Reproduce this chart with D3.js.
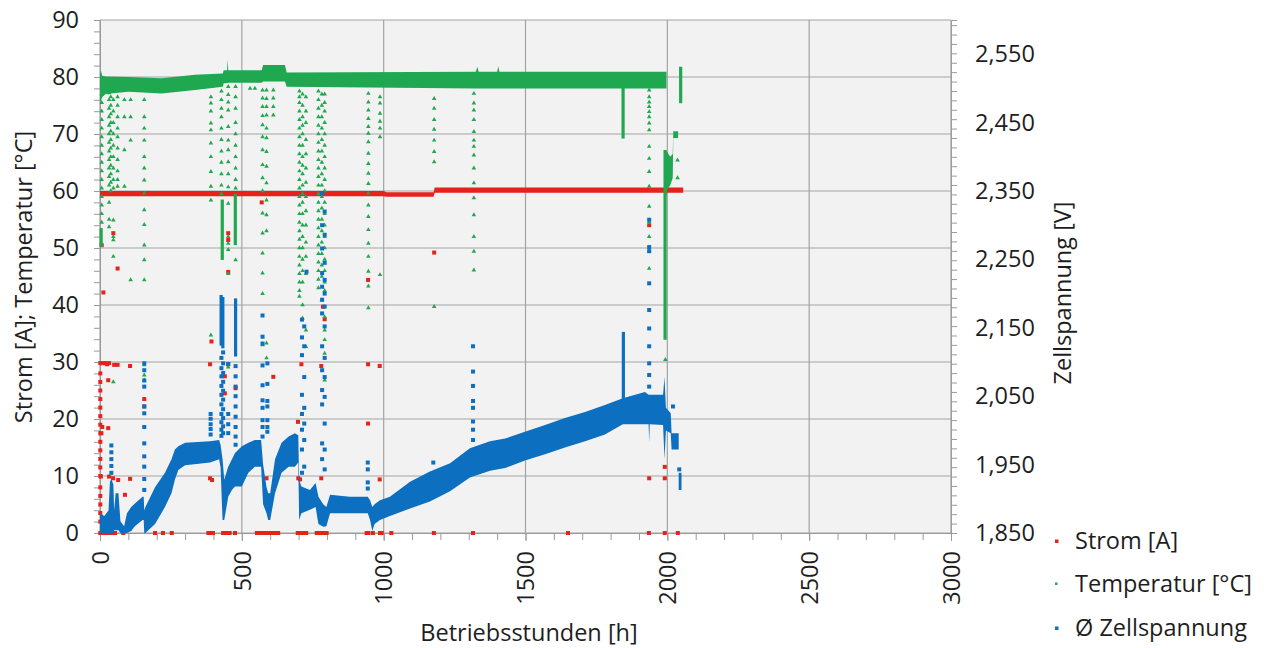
<!DOCTYPE html>
<html><head><meta charset="utf-8">
<script src="https://cdn.jsdelivr.net/npm/d3@7"></script>
<style>
body{margin:0;background:#fff}
text{font-family:"Open Sans",sans-serif;fill:#1e1e1e}
</style></head>
<body><svg id="c" width="1270" height="648"></svg>
<script>
// ---------------- DATA ----------------
const xTicks = [0, 500, 1000, 1500, 2000, 2500, 3000];
const leftTicks = [0, 10, 20, 30, 40, 50, 60, 70, 80, 90];
const rightTicks = [1.85, 1.95, 2.05, 2.15, 2.25, 2.35, 2.45, 2.55];
const rightTickLabels = ["1,850", "1,950", "2,050", "2,150", "2,250", "2,350", "2,450", "2,550"];
const seriesNames = ["Strom [A]", "Temperatur [°C]", "Ø Zellspannung"];

// Strom [A] – dense band + isolated points
const currBandHours = [0, 1000, 1010, 1176, 1180, 2056];
const currBandLow   = [59.1, 59.1, 59.0, 59.0, 59.7, 59.7];
const currBandHigh  = [60.0, 60.0, 59.8, 59.8, 60.6, 60.6];
const currZeroHours = [1, 4, 8, 12, 17, 22, 28, 36, 45, 53, 82, 194, 222, 253, 382, 390, 398, 434, 441, 448, 457, 476,
  553, 561, 569, 577, 585, 594, 602, 611, 619, 628, 697, 704, 711, 719, 727, 764, 771, 778, 785, 792, 799,
  940, 946, 962, 987, 993, 1027, 1177, 1315, 1650, 1935, 1991, 2037];
const currDrops = [
  [1, [2, 3.5, 5, 6.5, 8, 10, 11.5, 13, 14.5, 16, 17.5, 19, 20.5, 22, 23.5, 25, 26.5, 28, 29.8]],
  [3, [9.9]], [5, [17.5]], [8, [18.6]], [12, [42.2]], [6, [50.5]],
  [10, [29.8]], [18, [29.8]], [25, [29.6]], [32, [29.8, 9.9]], [50, [29.5]], [62, [29.5, 46.4]], [106, [29.3, 9.5]],
  [29, [26.8, 18.4]], [46, [9.6]], [64, [9.3]], [88, [6.7]], [47, [52.6]],
  [156, [23.5, 22.2]], [388, [29.6, 9.6]], [393, [33.6]], [395, [9.3]],
  [440, [27.5, 24.5]], [452, [29.6, 52.6, 51.4, 45.8]], [478, [25.4]],
  [570, [58.0]], [611, [27.4]], [587, [9.6, 6.5]], [593, [4.0]],
  [698, [19.5]], [699, [9.6]], [705, [9.4]], [710, [29.6]], [780, [29.3, 9.6]], [786, [39.7]], [792, [37.5]],
  [945, [44.4, 29.6, 19.2]], [986, [29.3, 9.4]], [1178, [49.2]],
  [1936, [54.0, 9.6]], [1991, [9.6, 11.6]]
];

// Temperatur [°C] – dense band, dense columns and isolated cooling points
const tempBandHours = [0, 3, 8, 20, 100, 217, 335, 433, 436, 448, 450, 452, 570, 575, 652, 658, 1325, 1330, 1335, 1400, 1404, 1408, 1997];
const tempBandLow   = [75.5, 75.8, 76.5, 77.0, 77.4, 77.1, 77.7, 78.3, 78.9, 78.9, 79.0, 79.0, 79.0, 79.2, 79.2, 78.3, 78.0, 78.0, 78.0, 78.0, 78.0, 78.0, 78.0];
const tempBandHigh  = [80.5, 81.2, 80.2, 80.1, 80.0, 79.8, 80.4, 80.6, 81.2, 81.2, 83.1, 81.2, 81.2, 82.1, 82.1, 80.8, 80.9, 81.8, 80.9, 80.9, 81.9, 80.9, 80.9];
const tempColumns = [[4, 50.2, 53.5], [431, 47.9, 58.5], [477, 50.5, 59.5], [1844, 69.2, 78.2], [1992, 33.9, 67.2], [2047, 75.4, 81.8]];
const tempTailHours = [1994, 2000, 2010, 2019, 2021, 2038];
const tempTailLow   = [58.5, 60.2, 61.0, 62.3, 69.3, 69.3];
const tempTailHigh  = [67.2, 66.8, 66.0, 66.5, 70.5, 70.5];
const tempEndHours = [2044, 2051];
const tempEndLow   = [79.8, 79.8];
const tempEndHigh  = [81.8, 81.6];
const tempDrops = [
  [6, [77, 75.5, 74, 72.5, 71, 69.5, 68, 66.5, 65, 63.5, 62, 60.5, 59, 57.5, 56, 54.5]],
  [32, [77.2, 76, 74.5, 73, 71.5, 70, 68.5, 67, 65.5, 64, 62.5, 61, 58, 55, 53.7]],
  [38, [76.5, 75, 73.5, 72, 70.5, 69, 67.5, 66, 64.5, 63, 61.5, 60]],
  [47, [76, 74, 72, 70, 68, 66, 64, 62, 60.5, 54.9, 52, 51.4, 48.5, 26.5]],
  [62, [76.5, 75, 73, 71, 69.5, 67.5, 65.5, 63.5, 62, 60.8]],
  [86, [76, 73, 67.2, 60.8]],
  [108, [76, 73, 68.9, 44.4]],
  [156, [76, 73, 71, 68.9, 66, 64, 61.9, 59.6, 56.7, 54.1, 50.5, 47.9, 44.4, 29.5, 27.7, 26.8]],
  [391, [78.3, 76.5, 75.4, 74, 71.9, 70.7, 68.4, 66, 63.4, 60.8, 58.4, 34.7]],
  [428, [77.5, 76, 74.5, 73, 71, 69, 67, 65, 63, 61, 59.5]],
  [452, [78.3, 76.9, 75.6, 74.2, 71.3, 68.9, 67.2, 65.1, 63, 60.7, 57.8, 52, 50.8, 49.7, 45.5, 29.1]],
  [478, [78.3, 76.5, 74.5, 72, 70, 68, 66, 64, 62, 60.5, 47.9]],
  [529, [78]], [546, [78]],
  [573, [77.7, 76.3, 74.8, 73.2, 71.6, 69.5, 67.2, 64.6, 62.3, 60, 56.1, 52.6, 49.1, 45.6, 42, 33]],
  [587, [77.7, 76.2, 74.8, 73.3, 71, 69.3, 66.9, 64.3, 61.4, 58.4, 55.8, 53, 33.3, 30.7]],
  [611, [77.7, 76.3, 74.8, 73.3]],
  [703, [77.5, 76.5, 75.5, 74, 72.5, 71, 69.5, 68, 66.5, 65, 63.5, 62, 60.5, 59, 57.5, 56, 54.5, 53, 51.5, 50, 48.5, 47, 45.5, 44, 42.5, 41.5]],
  [714, [77, 75, 73, 71.5, 70, 68, 66, 64.5, 63, 61, 59.5, 58, 56, 54, 52, 50, 48, 46, 44, 40, 37.7]],
  [726, [76.5, 74, 72, 69, 66.5, 64, 61.5, 59, 56.5, 54, 51, 48.5, 45.5, 35.6, 32.7]],
  [770, [77.5, 76, 74.5, 73, 71.5, 70, 68.5, 67, 65.5, 64, 62.5, 61, 59.5, 58, 56.5, 55, 53.5, 52, 50.5, 49, 47.5, 46, 44.5, 43]],
  [782, [77, 75, 73, 71, 69, 67, 65, 63, 61, 59, 57, 55, 53, 51, 49, 47, 45, 40.9]],
  [792, [77, 75.5, 74, 72, 70, 68, 66, 64, 62, 60, 58, 56, 54, 52, 50, 48, 46, 44, 42.5, 37.9, 35.6, 33.9, 31.5, 26.8]],
  [946, [77.1, 75.6, 74.2, 72.7, 71.3, 70.1, 68.6, 66.6, 64.8, 63.1, 61.3, 59.6, 57.5, 55.5, 53.2, 50.8, 48.5, 45.9, 43.3, 39.5]],
  [987, [76.5, 75.4, 73.6, 72.2, 71, 69.5, 45.3]],
  [1178, [76.2, 74.5, 72.5, 70.8, 68.9, 66.9, 65.1, 39.7]],
  [1318, [77.1, 75.4, 74.2, 72.5, 70.4, 68.9, 67.8, 66.3, 64, 61.4, 58.8, 55.8, 52, 49.4, 46.1]],
  [1936, [77.7, 76.5, 75.6, 74.8, 73.9, 73, 71.9, 70.7, 67.8, 65.7, 63.4, 60.8, 57.3, 54.6, 52, 49.5, 46.4]],
  [1993, [30.4]], [2036, [65.4, 62.3]]
];

// Ø Zellspannung [V] – dense band (null = gap), dense columns, isolated points
const voltBandHours = [0, 15, 30, 35, 40, 47, 50, 55, 65, 72, 85, 95, 110, 123, 150, 154, 156, 160, 194, 229, 252, 264, 276, 300, 388, 420, 425, 432, 438, 452, 465, 476, 500, 523, 546, 568, 575, 587, 593, 600, 617, 640, 665, 687, 699, 702, 710, 740, 760, 770, 787, 798, 811, 881, 944, 952, 960, 968, 987, 1022, 1093, 1163, 1234, 1304, 1375, 1428, 1498, 1569, 1639, 1710, 1780, 1843, 1921, 1934, 1936, 1938, 1985, 1990, 1995, 2012, 2015, 2040, 2040, 2040, 2050];
const voltBandLow  = [1.850, 1.850, 1.850, 1.850, 1.850, 1.850, 1.854, 1.854, 1.854, 1.850, 1.850, 1.850, 1.853, 1.860, 1.869, 1.869, 1.850, 1.850, 1.863, 1.888, 1.908, 1.928, 1.942, 1.949, 1.953, 1.958, 1.946, 1.869, 1.869, 1.903, 1.913, 1.918, 1.918, 1.938, 1.947, 1.947, 1.892, 1.879, 1.869, 1.869, 1.908, 1.938, 1.947, 1.947, 1.953, 1.869, 1.879, 1.884, 1.888, 1.863, 1.859, 1.860, 1.879, 1.879, 1.879, 1.869, 1.853, 1.863, 1.869, 1.875, 1.886, 1.896, 1.911, 1.931, 1.941, 1.945, 1.956, 1.965, 1.975, 1.984, 1.994, 2.009, 2.009, 2.009, 1.982, 2.009, 2.008, 1.958, 2.000, 1.996, 1.972, 1.972, null, 1.913, 1.913];
const voltBandHigh = [1.879, 1.875, 1.883, 1.925, 1.929, 1.921, 1.883, 1.908, 1.908, 1.867, 1.860, 1.879, 1.888, 1.893, 1.903, 1.903, 1.883, 1.888, 1.917, 1.938, 1.958, 1.972, 1.977, 1.982, 1.984, 1.986, 1.979, 1.958, 1.928, 1.947, 1.958, 1.967, 1.977, 1.982, 1.986, 1.986, 1.950, 1.917, 1.908, 1.908, 1.958, 1.982, 1.991, 1.996, 1.993, 1.928, 1.918, 1.913, 1.923, 1.903, 1.892, 1.888, 1.906, 1.903, 1.903, 1.898, 1.888, 1.892, 1.898, 1.903, 1.925, 1.940, 1.952, 1.974, 1.984, 1.988, 1.998, 2.008, 2.018, 2.027, 2.037, 2.047, 2.056, 2.052, 2.052, 2.052, 2.052, 2.078, 2.033, 2.025, 1.996, 1.996, null, 1.938, 1.938];
const voltColumns = [[427, 2.124, 2.198], [433, 2.120, 2.195], [478, 2.108, 2.193], [1845, 2.040, 2.144]];
const voltDrops = [
  [40, [1.978, 1.968, 1.958, 1.948, 1.938]],
  [156, [2.098, 2.088, 2.073, 2.064, 2.035, 2.025, 2.005, 1.981, 1.962, 1.947, 1.929, 1.913]],
  [390, [2.024, 2.017, 2.009, 2.002, 1.994]],
  [428, [2.106, 2.091, 2.079, 2.065, 2.052, 2.038, 2.024, 2.012, 2.001, 1.992]],
  [434, [2.114, 2.098, 2.084, 2.071, 2.058, 2.045, 2.031, 2.018, 2.006, 1.996]],
  [452, [2.097, 2.024, 2.009, 1.996]],
  [478, [2.094, 2.079, 2.064, 2.050, 2.035, 2.020, 2.005, 1.991, 1.979]],
  [573, [2.168, 2.137, 2.127, 2.095, 2.066, 2.044, 2.033, 2.015, 2.005, 1.991]],
  [590, [2.098, 2.068, 2.043, 2.035, 2.015, 2.005, 1.998]],
  [712, [2.162, 2.136, 2.110, 2.052, 2.024, 2.001, 1.972, 1.938]],
  [720, [2.152, 2.123, 2.078, 2.033, 2.010, 1.986, 1.947]],
  [728, [2.232]],
  [783, [2.347, 2.300, 2.266, 2.230, 2.210, 2.191, 2.171, 2.123, 2.088, 2.059, 2.038, 1.981, 1.958]],
  [792, [2.320, 2.286, 2.245, 2.220, 2.200, 2.181, 2.152, 2.106, 2.078, 2.049, 2.010, 1.972, 1.943]],
  [944, [1.953, 1.943, 1.924, 1.915]],
  [1175, [1.953]],
  [1315, [2.123, 2.086, 2.065, 2.043, 2.033, 2.013, 2.001, 1.986]],
  [1936, [2.308, 2.268, 2.262, 2.215, 2.176, 2.149, 2.123, 2.098, 2.081, 2.064]],
  [2020, [2.035]], [2042, [1.943]]
];

// ---------------- STYLE / LAYOUT ----------------
const M = {l: 100, r: 951, t: 20, b: 533};
const C = {red: "#e5221c", green: "#1fa84f", blue: "#0c6fc0", grid: "#a3a3a3", bg: "#f2f2f2", axis: "#9a9a9a"};
const FS = 23.5;

const svg = d3.select("#c");
const x = d3.scaleLinear().domain([0, 3000]).range([M.l, M.r]);
const yL = d3.scaleLinear().domain([0, 90]).range([M.b, M.t]);
const yR = d3.scaleLinear().domain([1.85, 2.6]).range([M.b, M.t]);

svg.append("rect").attr("x", M.l).attr("y", M.t).attr("width", M.r - M.l).attr("height", M.b - M.t).attr("fill", C.bg);

// gridlines
const grid = svg.append("g");
grid.selectAll("line.h").data(leftTicks).join("line")
  .attr("x1", M.l).attr("x2", M.r).attr("y1", d => yL(d)).attr("y2", d => yL(d))
  .attr("stroke", C.grid).attr("stroke-width", 1.2);
grid.selectAll("line.v").data(xTicks).join("line").attr("class", "v")
  .attr("x1", d => x(d)).attr("x2", d => x(d)).attr("y1", M.t).attr("y2", M.b)
  .attr("stroke", C.grid).attr("stroke-width", 1.2);

const styleText = g => g.selectAll("text").attr("font-size", FS).attr("font-family", "Open Sans").attr("fill", "#1e1e1e");

// left axis
const leftMinor = d3.range(0, 91, 2);
svg.append("g").attr("transform", `translate(${M.l},0)`)
  .call(d3.axisLeft(yL).tickValues(leftMinor).tickSize(6).tickFormat(""))
  .call(g => g.select(".domain").attr("stroke", C.axis))
  .call(g => g.selectAll(".tick line").attr("stroke", C.axis));
svg.append("g").attr("transform", `translate(${M.l},0)`)
  .call(d3.axisLeft(yL).tickValues(leftTicks).tickSize(6).tickPadding(15).tickFormat(d3.format("d")))
  .call(g => g.select(".domain").remove())
  .call(g => g.selectAll(".tick line").attr("stroke", C.axis))
  .call(styleText);

// right axis
const rightMinor = d3.range(0, 55).map(i => 1.85 + i * 0.01375);
svg.append("g").attr("transform", `translate(${M.r},0)`)
  .call(d3.axisRight(yR).tickValues(rightMinor).tickSize(6).tickFormat(""))
  .call(g => g.select(".domain").attr("stroke", C.axis))
  .call(g => g.selectAll(".tick line").attr("stroke", C.axis));
svg.append("g").attr("transform", `translate(${M.r},0)`)
  .call(d3.axisRight(yR).tickValues(rightTicks).tickSize(0).tickPadding(24).tickFormat((d, i) => rightTickLabels[i]))
  .call(g => g.select(".domain").remove())
  .call(styleText);

// bottom axis
const xMinor = d3.range(0, 3001, 100);
svg.append("g").attr("transform", `translate(0,${M.b})`)
  .call(d3.axisBottom(x).tickValues(xMinor).tickSize(7).tickFormat(""))
  .call(g => g.select(".domain").attr("stroke", C.axis))
  .call(g => g.selectAll(".tick line").attr("stroke", C.axis));
svg.append("g").attr("transform", `translate(0,${M.b})`)
  .call(d3.axisBottom(x).tickValues(xTicks).tickSize(8).tickFormat(d3.format("d")))
  .call(g => g.select(".domain").remove())
  .call(g => g.selectAll(".tick line").attr("stroke", C.axis))
  .call(styleText)
  .call(g => g.selectAll("text").attr("text-anchor", "end").attr("dy", "0.35em").attr("x", 0).attr("y", 0)
    .attr("transform", "translate(0,18) rotate(-90)"));

// ---------------- SERIES ----------------
function bandArea(hours, low, high, yS) {
  return d3.area().defined(i => low[i] != null)
    .x(i => x(hours[i])).y0(i => yS(low[i])).y1(i => yS(high[i]))(d3.range(hours.length));
}
const flat = drops => drops.flatMap(([h, vs]) => vs.map(v => [h, v]));

// Strom
svg.append("path").attr("d", bandArea(currBandHours, currBandLow, currBandHigh, yL)).attr("fill", C.red);
svg.append("g").selectAll("rect").data(flat(currDrops).concat(currZeroHours.map(h => [h, 0]))).join("rect")
  .attr("x", d => x(d[0]) - 2).attr("y", d => yL(d[1]) - 2).attr("width", 4).attr("height", 4).attr("fill", C.red);

// Temperatur
svg.append("path").attr("d", bandArea(tempBandHours, tempBandLow, tempBandHigh, yL)).attr("fill", C.green);
svg.append("path").attr("d", bandArea(tempTailHours, tempTailLow, tempTailHigh, yL)).attr("fill", C.green);
svg.append("path").attr("d", bandArea(tempEndHours, tempEndLow, tempEndHigh, yL)).attr("fill", C.green);
svg.append("g").selectAll("line").data(tempColumns).join("line")
  .attr("x1", d => x(d[0])).attr("x2", d => x(d[0])).attr("y1", d => yL(d[1])).attr("y2", d => yL(d[2]))
  .attr("stroke", C.green).attr("stroke-width", 3.2);
const tri = d3.symbol().type(d3.symbolTriangle).size(9);
svg.append("g").selectAll("path").data(flat(tempDrops)).join("path")
  .attr("transform", d => `translate(${x(d[0])},${yL(d[1])})`).attr("d", tri).attr("fill", C.green);

// Zellspannung
svg.append("path").attr("d", bandArea(voltBandHours, voltBandLow, voltBandHigh, yR)).attr("fill", C.blue);
svg.append("g").selectAll("line").data(voltColumns).join("line")
  .attr("x1", d => x(d[0])).attr("x2", d => x(d[0])).attr("y1", d => yR(d[1])).attr("y2", d => yR(d[2]))
  .attr("stroke", C.blue).attr("stroke-width", 3.2);
svg.append("g").selectAll("rect").data(flat(voltDrops)).join("rect")
  .attr("x", d => x(d[0]) - 2).attr("y", d => yR(d[1]) - 2).attr("width", 4).attr("height", 4).attr("fill", C.blue);

// ---------------- TITLES ----------------
function label(txt, cx, cy, rot, anchor) {
  svg.append("text").text(txt).attr("font-size", FS).attr("text-anchor", anchor || "middle").attr("dy", "0.35em")
    .attr("transform", `translate(${cx},${cy})` + (rot ? ` rotate(${rot})` : ""));
}
label("Betriebsstunden [h]", 529, 633);
label("Strom [A]; Temperatur [°C]", 24, 277, -90);
label("Zellspannung [V]", 1063, 293, -90);

// legend
const legY = [541, 584, 628];
const legC = [C.red, C.green, C.blue];
seriesNames.forEach((n, i) => {
  svg.append("rect").attr("x", 1055).attr("y", legY[i] - 1.5).attr("width", i === 1 ? 2.5 : 3.5).attr("height", i === 1 ? 2.5 : 3.5).attr("fill", legC[i]);
  label(n, 1075, legY[i], 0, "start");
});
</script></body></html>
